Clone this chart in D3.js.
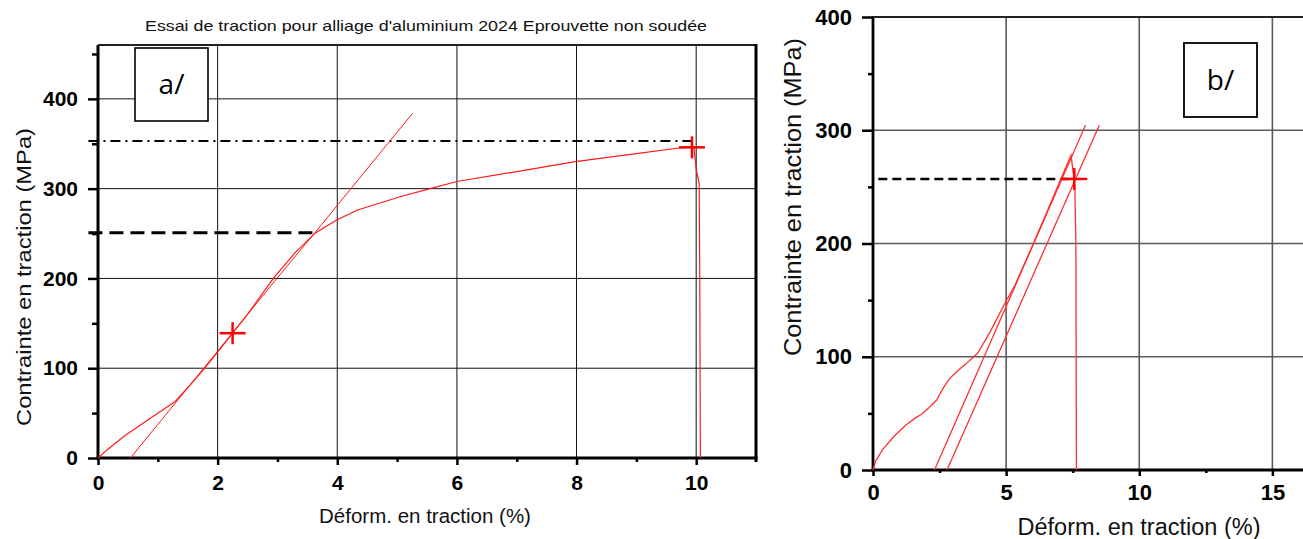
<!DOCTYPE html>
<html><head><meta charset="utf-8">
<script src="https://cdn.jsdelivr.net/npm/d3@7"></script>
<style>
body{margin:0;background:#fff}
svg{display:block}
</style></head><body>
<svg id="chart" width="1303" height="539"></svg>
<script>
// ---------- Panel a/ : 2024 aluminium alloy, unwelded specimen ----------
const aStrainTicks = [0, 2, 4, 6, 8, 10];
const aStrainMinor = [1, 3, 5, 7, 9];
const aStressTicks = [0, 100, 200, 300, 400];
const aStressMinor = [50, 150, 250, 350, 450];
// measured stress-strain curve (strain %, stress MPa)
const aCurve = [[0,0],[0.15,9],[0.43,24],[0.8,41],[1.29,63],[1.55,82],[1.77,99],[2.0,118],
  [2.25,139],[2.5,160],[2.94,201],[3.3,229],[3.64,251],[3.99,265],[4.33,276],[5.05,291],
  [5.55,300],[6.0,308],[7.0,319],[7.98,330],[9.0,339],[9.68,345],[9.96,347],[10.0,322],
  [10.05,306],[10.06,200],[10.07,0]];
// 0.2 % offset line parallel to the elastic slope
const aOffsetLine = [[0.54,0],[1.29,61],[2.0,119],[2.94,196],[3.64,252],[4.4,314],[5.26,384]];
const aMarkers = [[2.25,139],[9.93,346]];
const aYield = {strain: 3.64, stress: 251};
const aUltimate = {strain: 9.93, stress: 353};

// ---------- Panel b/ ----------
const bStrainTicks = [0, 5, 10, 15];
const bStrainMinor = [2.5, 7.5, 12.5];
const bStressTicks = [0, 100, 200, 300, 400];
const bStressMinor = [50, 150, 250, 350];
const bCurve = [[0,0],[0.1,8],[0.36,18],[0.8,30],[1.25,40],[1.6,46],[1.83,49.5],[2.1,55],
  [2.4,62],[2.6,71],[2.85,80],[3.15,87],[3.48,93.5],[3.93,103],[4.4,122],[4.95,147],[5.33,163],
  [5.97,197],[6.5,226],[7.0,254],[7.44,278],[7.52,262],[7.58,250],[7.62,200],[7.63,100],[7.64,0]];
const bOffsetLine1 = [[2.31,0],[7.98,304.5]];
const bOffsetLine2 = [[2.78,0],[8.5,304.5]];
const bMarker = [7.56, 257];
const bYield = {strain: 7.56, stress: 257};

const titleText = "Essai de traction pour alliage d'aluminium 2024 Eprouvette non soudée";
const xTitle = "Déform. en traction (%)";
const yTitle = "Contrainte en traction (MPa)";

const svg = d3.select("#chart");
const FONT = "'Liberation Sans', Arial, sans-serif";
const RED = "#ff1a1a";

// ---------- scales ----------
const xA = d3.scaleLinear().domain([0, 11]).range([98, 756]);
const yA = d3.scaleLinear().domain([0, 460]).range([458, 45]);
const xB = d3.scaleLinear().domain([0, 16.15]).range([873, 1303]);
const yB = d3.scaleLinear().domain([0, 400]).range([470, 17]);

function panel(opt) {
  const {x, y, g, gridColor, gridWidth} = opt;
  const [x0, x1] = x.range();
  const [y0, y1] = y.range();

  // grid
  g.append("g").selectAll("line").data(opt.xTicks.filter(d => d > 0))
    .join("line").attr("x1", d => x(d)).attr("x2", d => x(d))
    .attr("y1", y1).attr("y2", y0).attr("stroke", gridColor).attr("stroke-width", gridWidth);
  g.append("g").selectAll("line").data(opt.yTicks.filter(d => d > 0 && y(d) > y1 + 2))
    .join("line").attr("y1", d => y(d)).attr("y2", d => y(d))
    .attr("x1", x0).attr("x2", x1).attr("stroke", gridColor).attr("stroke-width", gridWidth);

  // minor ticks
  const yMinor = g.append("g").attr("transform", `translate(${x0},0)`)
    .call(d3.axisLeft(y).tickValues(opt.yMinor).tickSize(opt.yMinorLen).tickFormat(""));
  const xMinor = g.append("g").attr("transform", `translate(0,${y0})`)
    .call(d3.axisBottom(x).tickValues(opt.xMinor).tickSize(opt.xMinorLen).tickFormat(""));
  // major ticks
  const yAx = g.append("g").attr("transform", `translate(${x0},0)`)
    .call(d3.axisLeft(y).tickValues(opt.yTicks).tickSize(opt.yMajorLen).tickPadding(opt.yPad));
  const xAx = g.append("g").attr("transform", `translate(0,${y0})`)
    .call(d3.axisBottom(x).tickValues(opt.xTicks).tickSize(opt.xMajorLen));
  [yMinor, xMinor, yAx, xAx].forEach(a => {
    a.select(".domain").remove();
    a.selectAll(".tick line").attr("stroke", "#000").attr("stroke-width", 2.5);
  });
  yAx.selectAll("text").attr("font-family", FONT).attr("font-weight", "bold")
    .attr("font-size", opt.tickFont).attr("fill", "#000");
  xAx.selectAll("text").attr("font-family", FONT).attr("font-weight", "bold")
    .attr("font-size", opt.tickFont).attr("fill", "#000")
    .attr("dy", null).attr("y", opt.xLabelY);
}

// ---------- panel a ----------
const gA = svg.append("g");
panel({x: xA, y: yA, g: gA, gridColor: "#111", gridWidth: 1,
  xTicks: aStrainTicks, xMinor: aStrainMinor, yTicks: aStressTicks, yMinor: aStressMinor,
  yMajorLen: 10, yMinorLen: 6, xMajorLen: 7, xMinorLen: 4, yPad: 10, xLabelY: 32, tickFont: 21});

// frame a
gA.append("line").attr("x1", xA(0)).attr("x2", xA(0)).attr("y1", yA.range()[1]).attr("y2", yA(0) + 1.5)
  .attr("stroke", "#000").attr("stroke-width", 3);
gA.append("line").attr("x1", xA(0) - 1.5).attr("x2", xA(11) + 1.5).attr("y1", yA(0)).attr("y2", yA(0))
  .attr("stroke", "#000").attr("stroke-width", 3);
gA.append("line").attr("x1", xA(0)).attr("x2", xA(11)).attr("y1", yA(460)).attr("y2", yA(460))
  .attr("stroke", "#222").attr("stroke-width", 2);
gA.append("line").attr("x1", xA(11)).attr("x2", xA(11)).attr("y1", yA(460) - 1).attr("y2", yA(0) + 4)
  .attr("stroke", "#000").attr("stroke-width", 3);

// reference lines a
gA.append("line").attr("x1", xA(-0.16)).attr("x2", xA(aUltimate.strain))
  .attr("y1", yA(aUltimate.stress)).attr("y2", yA(aUltimate.stress))
  .attr("stroke", "#000").attr("stroke-width", 2).attr("stroke-dasharray", "10,5,2,5");
gA.append("line").attr("x1", xA(-0.16)).attr("x2", xA(aYield.strain))
  .attr("y1", yA(aYield.stress)).attr("y2", yA(aYield.stress))
  .attr("stroke", "#000").attr("stroke-width", 3).attr("stroke-dasharray", "14,7");

const lineA = d3.line().x(d => xA(d[0])).y(d => yA(d[1]));
gA.append("path").datum(aOffsetLine).attr("d", lineA).attr("fill", "none")
  .attr("stroke", RED).attr("stroke-width", 1);
gA.append("path").datum(aCurve).attr("d", lineA).attr("fill", "none")
  .attr("stroke", RED).attr("stroke-width", 1.2);

function plus(g, cx, cy) {
  g.append("line").attr("x1", cx - 13).attr("x2", cx + 13).attr("y1", cy).attr("y2", cy)
    .attr("stroke", "#ff0000").attr("stroke-width", 2.5);
  g.append("line").attr("x1", cx).attr("x2", cx).attr("y1", cy - 11).attr("y2", cy + 11)
    .attr("stroke", "#ff0000").attr("stroke-width", 2.5);
}
aMarkers.forEach(d => plus(gA, xA(d[0]), yA(d[1])));

// label box a/
gA.append("rect").attr("x", 135).attr("y", 48).attr("width", 73).attr("height", 73)
  .attr("fill", "#fff").attr("stroke", "#000").attr("stroke-width", 1.6);
gA.append("text").attr("x", 171.5).attr("y", 94).attr("text-anchor", "middle")
  .attr("font-family", "'Open Sans', sans-serif").attr("font-size", 28).text("a/");

// titles a
svg.append("text").attr("x", 426).attr("y", 31).attr("text-anchor", "middle")
  .attr("font-family", FONT).attr("font-size", 15).attr("fill", "#111")
  .attr("textLength", 562).attr("lengthAdjust", "spacingAndGlyphs").text(titleText);
svg.append("text").attr("x", 425).attr("y", 523).attr("text-anchor", "middle")
  .attr("font-family", FONT).attr("font-size", 20.5).attr("fill", "#111").text(xTitle);
svg.append("text").attr("transform", "translate(31,277) rotate(-90)").attr("text-anchor", "middle")
  .attr("font-family", FONT).attr("font-size", 21).attr("fill", "#111")
  .attr("textLength", 298).attr("lengthAdjust", "spacingAndGlyphs").text(yTitle);

// ---------- panel b ----------
const gB = svg.append("g");
panel({x: xB, y: yB, g: gB, gridColor: "#5a5a5a", gridWidth: 1.6,
  xTicks: bStrainTicks, xMinor: bStrainMinor, yTicks: bStressTicks, yMinor: bStressMinor,
  yMajorLen: 11, yMinorLen: 5, xMajorLen: 6, xMinorLen: 3, yPad: 10, xLabelY: 30, tickFont: 22});

gB.append("line").attr("x1", xB(0)).attr("x2", xB(0)).attr("y1", yB(400) - 1).attr("y2", yB(0) + 1.5)
  .attr("stroke", "#000").attr("stroke-width", 2.8);
gB.append("line").attr("x1", xB(0) - 1.5).attr("x2", 1303).attr("y1", yB(0)).attr("y2", yB(0))
  .attr("stroke", "#000").attr("stroke-width", 2.8);
gB.append("line").attr("x1", xB(0)).attr("x2", 1303).attr("y1", yB(400)).attr("y2", yB(400))
  .attr("stroke", "#222").attr("stroke-width", 2.2);

gB.append("line").attr("x1", xB(0.2)).attr("x2", xB(bYield.strain))
  .attr("y1", yB(bYield.stress)).attr("y2", yB(bYield.stress))
  .attr("stroke", "#000").attr("stroke-width", 2.5).attr("stroke-dasharray", "9,5");

const lineB = d3.line().x(d => xB(d[0])).y(d => yB(d[1]));
[bOffsetLine1, bOffsetLine2].forEach(l => gB.append("path").datum(l).attr("d", lineB)
  .attr("fill", "none").attr("stroke", "#ff3030").attr("stroke-width", 1.3));
gB.append("path").datum(bCurve).attr("d", lineB).attr("fill", "none")
  .attr("stroke", "#ff3030").attr("stroke-width", 1.3);
plus(gB, xB(bMarker[0]), yB(bMarker[1]));

gB.append("rect").attr("x", 1184).attr("y", 43).attr("width", 73).attr("height", 74)
  .attr("fill", "#fff").attr("stroke", "#000").attr("stroke-width", 1.8);
gB.append("text").attr("x", 1220.5).attr("y", 90).attr("text-anchor", "middle")
  .attr("font-family", "'Open Sans', sans-serif").attr("font-size", 28).text("b/");

svg.append("text").attr("x", 1139).attr("y", 535).attr("text-anchor", "middle")
  .attr("font-family", FONT).attr("font-size", 23.5).attr("fill", "#111").text(xTitle);
svg.append("text").attr("transform", "translate(801,197) rotate(-90)").attr("text-anchor", "middle")
  .attr("font-family", FONT).attr("font-size", 24).attr("fill", "#111")
  .attr("textLength", 318).attr("lengthAdjust", "spacingAndGlyphs").text(yTitle);
</script>
</body></html>
